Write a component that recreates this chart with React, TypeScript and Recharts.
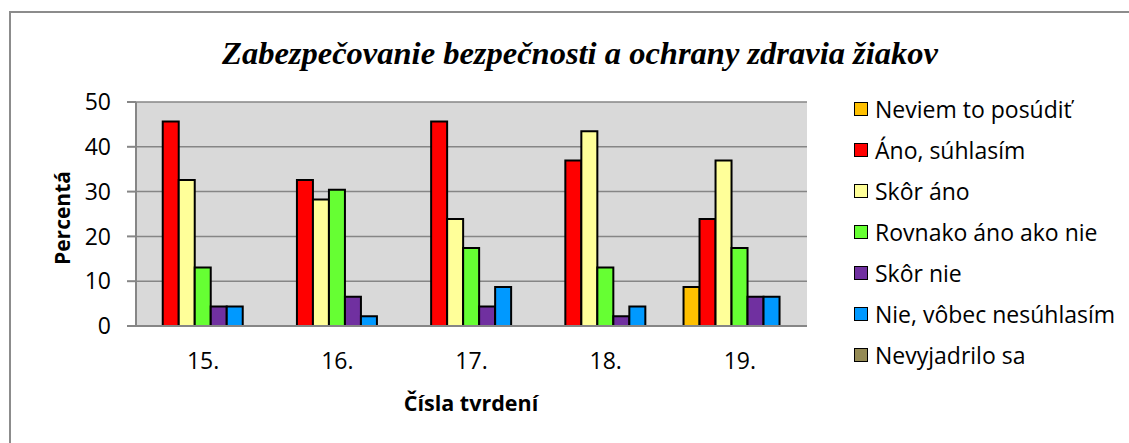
import React from "react";
import { BarChart, Bar, XAxis, YAxis, CartesianGrid } from "recharts";

const categories = ["15.", "16.", "17.", "18.", "19."];
const neviem = [0, 0, 0, 0, 8.7];
const anoSuhlasim = [45.65, 32.61, 45.65, 36.96, 23.91];
const skorAno = [32.61, 28.26, 23.91, 43.48, 36.96];
const rovnako = [13.04, 30.43, 17.39, 13.04, 17.39];
const skorNie = [4.35, 6.52, 4.35, 2.17, 6.52];
const nieVobec = [4.35, 2.17, 8.7, 4.35, 6.52];
const nevyjadrilo = [0, 0, 0, 0, 0];
const yTicks = [0, 10, 20, 30, 40, 50];

const seriesNames = [
  "Neviem to posúdiť",
  "Áno, súhlasím",
  "Skôr áno",
  "Rovnako áno ako nie",
  "Skôr nie",
  "Nie, vôbec nesúhlasím",
  "Nevyjadrilo sa",
];
const seriesColors = ["#FFC000", "#FF0000", "#FFFF99", "#66FF33", "#7030A0", "#0099FF", "#948A54"];
const seriesValues = [neviem, anoSuhlasim, skorAno, rovnako, skorNie, nieVobec, nevyjadrilo];

const data = categories.map((c, i) => {
  const row: Record<string, any> = { cat: c };
  seriesValues.forEach((vals, s) => {
    row["s" + s] = vals[i];
  });
  return row;
});

const FONT = "'Open Sans', 'Noto Sans', sans-serif";

export default function App() {
  return (
    <div
      style={{
        position: "absolute",
        left: 0,
        top: 0,
        width: 1129,
        height: 443,
        overflow: "hidden",
        background: "#fff",
      }}
    >
      <div
        style={{
          position: "absolute",
          left: 9,
          top: 11,
          width: 1300,
          height: 600,
          border: "2px solid #8C8C8C",
        }}
      />
      <div
        style={{
          position: "absolute",
          left: 0,
          width: 1160,
          top: 35,
          textAlign: "center",
          fontFamily: "'Liberation Serif', 'Times New Roman', serif",
          fontStyle: "italic",
          fontWeight: "bold",
          fontSize: 32.5,
          lineHeight: "36px",
          color: "#000",
          whiteSpace: "nowrap",
        }}
      >
        Zabezpečovanie bezpečnosti a ochrany zdravia žiakov
      </div>
      <div style={{ position: "absolute", left: 0, top: 0 }}>
        <BarChart
          width={1129}
          height={443}
          data={data}
          margin={{ top: 102, right: 322, bottom: 77, left: 96 }}
          barGap={0}
          barCategoryGap="8%"
        >
          <CartesianGrid
            vertical={false}
            stroke="#868686"
            strokeWidth={1.5}
            fill="#D9D9D9"
            fillOpacity={1}
          />
          <XAxis
            dataKey="cat"
            height={40}
            tickLine={false}
            tickSize={0}
            tickMargin={27}
            axisLine={{ stroke: "#868686", strokeWidth: 2 }}
            tick={{ fill: "#000", fontSize: 23, fontFamily: FONT }}
            interval={0}
          />
          <YAxis
            width={40}
            domain={[0, 50]}
            ticks={yTicks}
            interval={0}
            tickSize={9}
            tickMargin={16}
            tickLine={{ stroke: "#868686", strokeWidth: 2 }}
            axisLine={{ stroke: "#868686", strokeWidth: 2 }}
            tick={{ fill: "#000", fontSize: 23, fontFamily: FONT }}
          />
          {seriesNames.map((n, i) => (
            <Bar
              key={n}
              dataKey={"s" + i}
              name={n}
              fill={seriesColors[i]}
              stroke="#000"
              strokeWidth={2}
              isAnimationActive={false}
            />
          ))}
        </BarChart>
      </div>
      <div
        style={{
          position: "absolute",
          left: 854,
          top: 88,
          fontFamily: FONT,
          fontSize: 23,
          color: "#000",
        }}
      >
        {seriesNames.map((n, i) => (
          <div key={n} style={{ display: "flex", alignItems: "center", height: 41.1 }}>
            <span
              style={{
                display: "inline-block",
                width: 12,
                height: 12,
                background: seriesColors[i],
                border: "1.5px solid #000",
                marginRight: 7,
                flex: "none",
              }}
            />
            <span style={{ whiteSpace: "nowrap" }}>{n}</span>
          </div>
        ))}
      </div>
      <div
        style={{
          position: "absolute",
          left: 62,
          top: 218,
          transform: "translate(-50%, -50%) rotate(-90deg)",
          fontFamily: FONT,
          fontWeight: "bold",
          fontSize: 21,
          whiteSpace: "nowrap",
          color: "#000",
        }}
      >
        Percentá
      </div>
      <div
        style={{
          position: "absolute",
          left: 471,
          top: 402,
          transform: "translate(-50%, -50%)",
          fontFamily: FONT,
          fontWeight: "bold",
          fontSize: 21.5,
          whiteSpace: "nowrap",
          color: "#000",
        }}
      >
        Čísla tvrdení
      </div>
    </div>
  );
}
